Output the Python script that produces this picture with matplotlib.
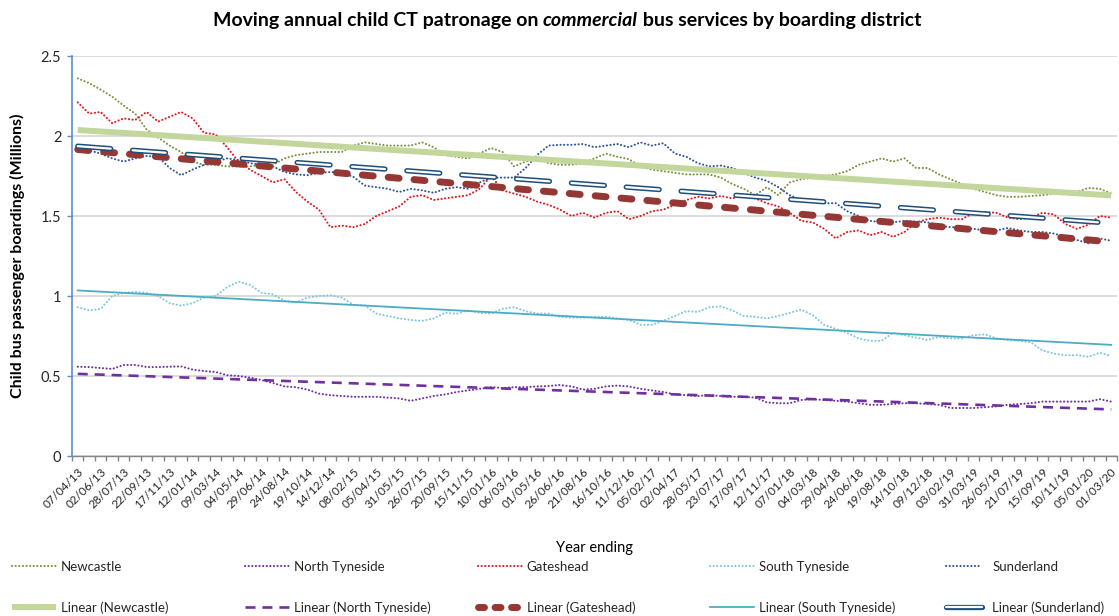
import numpy as np
import matplotlib
matplotlib.use('Agg')
import matplotlib.pyplot as plt
import matplotlib.patheffects as pe
from matplotlib.lines import Line2D

plt.rcParams['font.family'] = ['Lato', 'DejaVu Sans']
plt.rcParams['lines.scale_dashes'] = False

# every second 4-weekly period is labelled
year_ending = ['07/04/13', '02/06/13', '28/07/13', '22/09/13', '17/11/13', '12/01/14',
               '09/03/14', '04/05/14', '29/06/14', '24/08/14', '19/10/14', '14/12/14',
               '08/02/15', '05/04/15', '31/05/15', '26/07/15', '20/09/15', '15/11/15',
               '10/01/16', '06/03/16', '01/05/16', '26/06/16', '21/08/16', '16/10/16',
               '11/12/16', '05/02/17', '02/04/17', '28/05/17', '23/07/17', '17/09/17',
               '12/11/17', '07/01/18', '04/03/18', '29/04/18', '24/06/18', '19/08/18',
               '14/10/18', '09/12/18', '03/02/19', '31/03/19', '26/05/19', '21/07/19',
               '15/09/19', '10/11/19', '05/01/20', '01/03/20']

y_tick_labels = ['0', '0.5', '1', '1.5', '2', '2.5']

districts = ['Newcastle', 'North Tyneside', 'Gateshead', 'South Tyneside', 'Sunderland']

# moving annual boardings (millions), one value per 4-week period
newcastle = [2.36, 2.33, 2.29, 2.245, 2.19, 2.14, 2.04, 1.99, 1.94, 1.90,
             1.84, 1.82, 1.82, 1.81, 1.81, 1.81, 1.82, 1.82, 1.86, 1.88,
             1.89, 1.90, 1.90, 1.90, 1.94, 1.96, 1.95, 1.94, 1.94, 1.94,
             1.96, 1.93, 1.88, 1.87, 1.86, 1.89, 1.925, 1.90, 1.81, 1.84,
             1.86, 1.83, 1.82, 1.82, 1.83, 1.86, 1.89, 1.87, 1.855, 1.81,
             1.79, 1.78, 1.77, 1.76, 1.76, 1.76, 1.74, 1.70, 1.67, 1.63,
             1.68, 1.63, 1.71, 1.73, 1.74, 1.75, 1.76, 1.78, 1.82, 1.84,
             1.86, 1.84, 1.86, 1.80, 1.80, 1.76, 1.73, 1.70, 1.67, 1.65,
             1.63, 1.62, 1.62, 1.625, 1.63, 1.64, 1.645, 1.65, 1.675, 1.67, 1.64]

north_tyneside = [0.558, 0.556, 0.55, 0.544, 0.569, 0.569, 0.556, 0.556, 0.558, 0.56,
                  0.54, 0.531, 0.525, 0.505, 0.50, 0.49, 0.475, 0.456, 0.435, 0.43,
                  0.415, 0.39, 0.38, 0.375, 0.37, 0.37, 0.37, 0.365, 0.36, 0.345,
                  0.36, 0.375, 0.385, 0.40, 0.41, 0.42, 0.43, 0.425, 0.43, 0.43,
                  0.435, 0.4375, 0.444, 0.435, 0.415, 0.42, 0.435, 0.44, 0.435, 0.42,
                  0.41, 0.40, 0.385, 0.38, 0.375, 0.38, 0.375, 0.37, 0.37, 0.365,
                  0.335, 0.33, 0.33, 0.35, 0.355, 0.35, 0.345, 0.34, 0.33, 0.32,
                  0.32, 0.325, 0.33, 0.33, 0.325, 0.32, 0.30, 0.30, 0.30, 0.305,
                  0.31, 0.32, 0.325, 0.33, 0.34, 0.34, 0.34, 0.34, 0.34, 0.355, 0.34]

gateshead = [2.21, 2.14, 2.15, 2.08, 2.11, 2.10, 2.15, 2.09, 2.12, 2.15,
             2.11, 2.02, 2.01, 1.93, 1.84, 1.79, 1.75, 1.71, 1.73, 1.65,
             1.59, 1.54, 1.43, 1.44, 1.43, 1.45, 1.50, 1.53, 1.56, 1.62,
             1.63, 1.60, 1.61, 1.62, 1.63, 1.67, 1.75, 1.66, 1.64, 1.62,
             1.59, 1.57, 1.54, 1.50, 1.52, 1.49, 1.52, 1.53, 1.48, 1.50,
             1.53, 1.54, 1.57, 1.60, 1.62, 1.61, 1.625, 1.61, 1.63, 1.61,
             1.58, 1.56, 1.52, 1.47, 1.46, 1.42, 1.36, 1.40, 1.41, 1.38,
             1.40, 1.37, 1.40, 1.46, 1.48, 1.49, 1.48, 1.48, 1.52, 1.525,
             1.52, 1.49, 1.48, 1.49, 1.52, 1.51, 1.45, 1.42, 1.445, 1.50, 1.49]

south_tyneside = [0.93, 0.91, 0.92, 1.00, 1.02, 1.025, 1.02, 1.00, 0.955, 0.94,
                  0.955, 0.99, 1.00, 1.055, 1.09, 1.07, 1.02, 1.01, 0.97, 0.96,
                  0.99, 1.00, 1.005, 0.99, 0.945, 0.94, 0.89, 0.875, 0.86, 0.85,
                  0.845, 0.86, 0.895, 0.89, 0.91, 0.895, 0.89, 0.92, 0.93, 0.905,
                  0.89, 0.89, 0.87, 0.865, 0.865, 0.87, 0.87, 0.86, 0.85, 0.82,
                  0.82, 0.845, 0.875, 0.905, 0.90, 0.93, 0.935, 0.91, 0.875, 0.87,
                  0.86, 0.875, 0.895, 0.915, 0.88, 0.82, 0.795, 0.77, 0.735, 0.72,
                  0.72, 0.77, 0.755, 0.74, 0.725, 0.745, 0.735, 0.735, 0.755, 0.76,
                  0.735, 0.725, 0.72, 0.71, 0.66, 0.64, 0.63, 0.63, 0.62, 0.645, 0.625]

sunderland = [1.94, 1.91, 1.89, 1.86, 1.84, 1.86, 1.875, 1.87, 1.80, 1.755,
              1.79, 1.82, 1.84, 1.86, 1.85, 1.83, 1.82, 1.81, 1.775, 1.76,
              1.755, 1.77, 1.775, 1.77, 1.745, 1.69, 1.68, 1.67, 1.65, 1.67,
              1.66, 1.645, 1.67, 1.68, 1.67, 1.71, 1.74, 1.74, 1.74, 1.80,
              1.88, 1.94, 1.945, 1.945, 1.95, 1.93, 1.94, 1.95, 1.93, 1.96,
              1.94, 1.955, 1.89, 1.87, 1.83, 1.81, 1.815, 1.80, 1.77, 1.74,
              1.72, 1.68, 1.63, 1.60, 1.59, 1.58, 1.58, 1.53, 1.50, 1.47,
              1.46, 1.46, 1.47, 1.465, 1.46, 1.44, 1.43, 1.43, 1.42, 1.41,
              1.41, 1.425, 1.41, 1.40, 1.40, 1.39, 1.37, 1.35, 1.33, 1.36, 1.345]

series = [newcastle, north_tyneside, gateshead, south_tyneside, sunderland]
dot_colors = ['#77933C', '#7030A0', '#E3161B', '#7CC8DE', '#2F5597']

dotted = dict(lw=1.5, ls=(0, (0.1, 2.5)), dash_capstyle='round')
# double line (Sunderland): white core with a dark blue outline
double = [pe.Stroke(linewidth=3.8, foreground='#1F4E79'), pe.Normal()]
trend_styles = [
    dict(color='#C3D69B', lw=4.3, ls='-', solid_capstyle='butt'),
    dict(color='#7030A0', lw=1.9, ls=(0, (7.2, 5.0)), dash_capstyle='butt'),
    dict(color='#953735', lw=5.0, ls=(0, (7.9, 10.8)), dash_capstyle='round'),
    dict(color='#4BACC6', lw=1.3, ls='-'),
    dict(color='white', lw=1.6, ls=(0, (23.8, 15.8)), dash_capstyle='round',
         path_effects=double),
]

fig = plt.figure(figsize=(11.19, 6.16), dpi=100)
ax = fig.add_axes([72 / 1119, 1 - 456 / 616, 1045 / 1119, 400 / 616])

x = np.arange(len(newcastle))

dot_lines = []
for vals, col in zip(series, dot_colors):
    ln, = ax.plot(x, vals, color=col, **dotted)
    dot_lines.append(ln)

trend_handles = []
for vals, st in zip(series, trend_styles):
    coef = np.polyfit(x, vals, 1)
    ln, = ax.plot(x, np.polyval(coef, x), **st)
    trend_handles.append(ln)

# legend keys that look like Excel's (shorter dash repeat, single pill)
trend_handles[2] = Line2D([], [], color='#953735', lw=5.0, ls=(0, (4.3, 7.6)),
                          dash_capstyle='round')
trend_handles[4] = Line2D([], [], color='white', lw=1.6, solid_capstyle='round',
                          path_effects=double)

# axes
ax.set_xlim(-0.5, len(x) - 0.5)
ax.set_ylim(0, 2.5)
ax.set_yticks(np.arange(0, 2.51, 0.5))
ax.set_yticklabels(y_tick_labels, fontsize=10.5, color='#262626')
ax.set_xticks(x[::2])
ax.set_xticklabels(year_ending, rotation=45, ha='right', rotation_mode='anchor',
                   fontsize=8.5, color='#262626')
ax.set_xticks(np.arange(-0.5, len(x), 1), minor=True)
ax.tick_params(axis='x', which='major', length=0, pad=7)
ax.tick_params(axis='x', which='minor', length=3.6, color='#868686', width=1)
ax.tick_params(axis='y', length=3.6, color='#5B8BD0', width=1, pad=4)

for s in ['top', 'right']:
    ax.spines[s].set_visible(False)
ax.spines['left'].set_color('#5B8BD0')
ax.spines['left'].set_linewidth(1.2)
ax.spines['bottom'].set_color('#868686')
ax.spines['bottom'].set_linewidth(1.0)
ax.set_axisbelow(True)
ax.yaxis.grid(True, color='#D9D9D9', lw=1.3)

ax.set_ylabel('Child bus passenger boardings (Millions)', fontsize=11.5,
              fontweight='bold', va='center')
ax.yaxis.set_label_coords(-55 / 1045, 0.5)
ax.set_xlabel('Year ending', fontsize=10.5, va='center')
ax.xaxis.set_label_coords(0.5, -92 / 400)

# title with italic word
title_parts = [('Moving annual child CT patronage on ', 'normal'),
               ('commercial', 'italic'),
               (' bus services by boarding district', 'normal')]
renderer = fig.canvas.get_renderer()
tt = [fig.text(0, 1 - 26 / 616, s, fontsize=14, fontweight='bold', style=st, va='baseline')
      for s, st in title_parts]
widths = [t.get_window_extent(renderer).width for t in tt]
xpos = 567 - sum(widths) / 2
for t, w in zip(tt, widths):
    t.set_x(xpos / 1119)
    xpos += w

# legend: one column per district
col_x = [12, 245, 478, 710, 946]
for k, name in enumerate(districts):
    hl, pad = (2.75, 0.75) if k == 4 else (3.3, 0.4)
    fig.legend([dot_lines[k], trend_handles[k]], [name, 'Linear (%s)' % name],
               loc='upper left', bbox_to_anchor=(col_x[k] / 1119, 1 - 561 / 616),
               frameon=False, fontsize=9.5, handlelength=hl, handletextpad=pad,
               labelspacing=2.15, borderpad=0, borderaxespad=0,
               labelcolor='#262626')

fig.savefig('out.png', dpi=100)
